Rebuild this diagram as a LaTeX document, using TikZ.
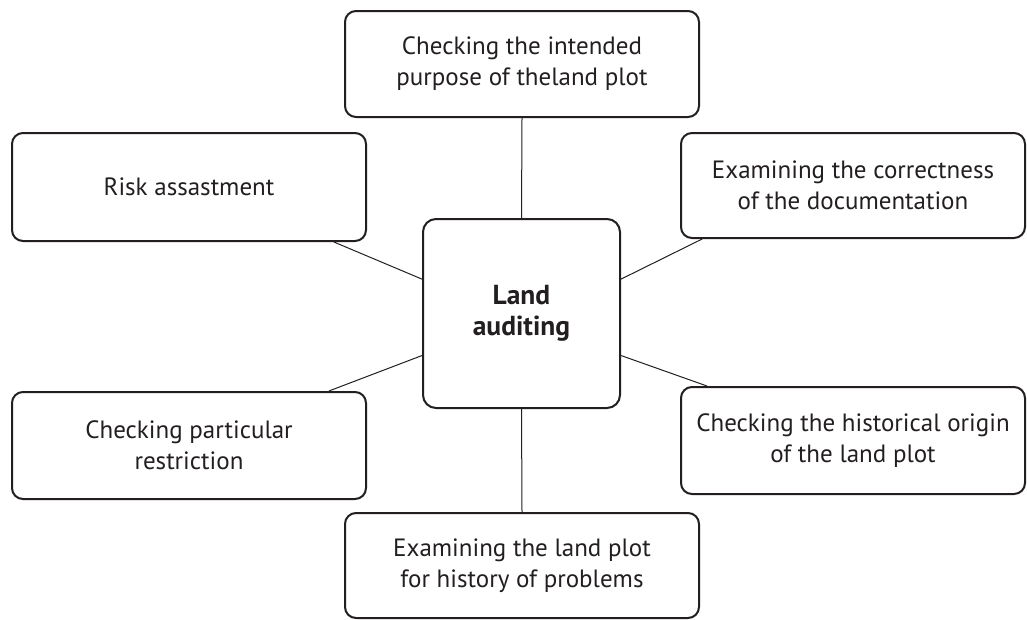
\documentclass[tikz,border=0pt]{standalone}
\usepackage{fontspec}
\setmainfont{PT Sans}
\usetikzlibrary{calc}
\definecolor{ink}{HTML}{231F20}
\begin{document}
\begin{tikzpicture}[x=1pt,y=-1pt,
  box/.style={draw=ink, line width=2pt, rounded corners=11pt, align=center, text=ink,
    font=\fontsize{25}{31}\selectfont, inner sep=0pt},
  link/.style={draw=ink, line width=1pt}]
\useasboundingbox[fill=white] (0,0) rectangle (1027,619);
\node[box, minimum width=354pt, minimum height=106pt] (top) at (522,64) {Checking the intended\\purpose of theland plot};
\node[box, minimum width=354pt, minimum height=108pt] (risk) at (189,187) {Risk assastment};
\node[box, minimum width=344pt, minimum height=105pt] (doc) at (853,185.5) {Examining the correctness\\of the documentation};
\node[box, minimum width=197pt, minimum height=189pt, rounded corners=13pt, font=\fontsize{27.5}{31}\selectfont\bfseries] (c) at (521.5,313.5) {Land\\auditing};
\node[box, minimum width=354pt, minimum height=107pt] (restr) at (189,445.5) {Checking particular\\restriction};
\node[box, minimum width=344pt, minimum height=107pt] (hist) at (853,440.5) {Checking the historical origin\\of the land plot};
\node[box, minimum width=354pt, minimum height=105pt] (bot) at (522,565.5) {Examining the land plot\\for history of problems};

\draw[link] (top.south) -- (c.north);
\draw[link] (c.south) -- (bot.north);
\draw[link] ($(c.north west)!0.32!(c.south west)$) -- ($(risk.south west)!0.907!(risk.south east)$);
\draw[link] ($(c.north west)!0.72!(c.south west)$) -- ($(restr.north west)!0.893!(restr.north east)$);
\draw[link] ($(c.north east)!0.32!(c.south east)$) -- ($(doc.south west)!0.064!(doc.south east)$);
\draw[link] ($(c.north east)!0.72!(c.south east)$) -- ($(hist.north west)!0.078!(hist.north east)$);
\end{tikzpicture}
\end{document}
